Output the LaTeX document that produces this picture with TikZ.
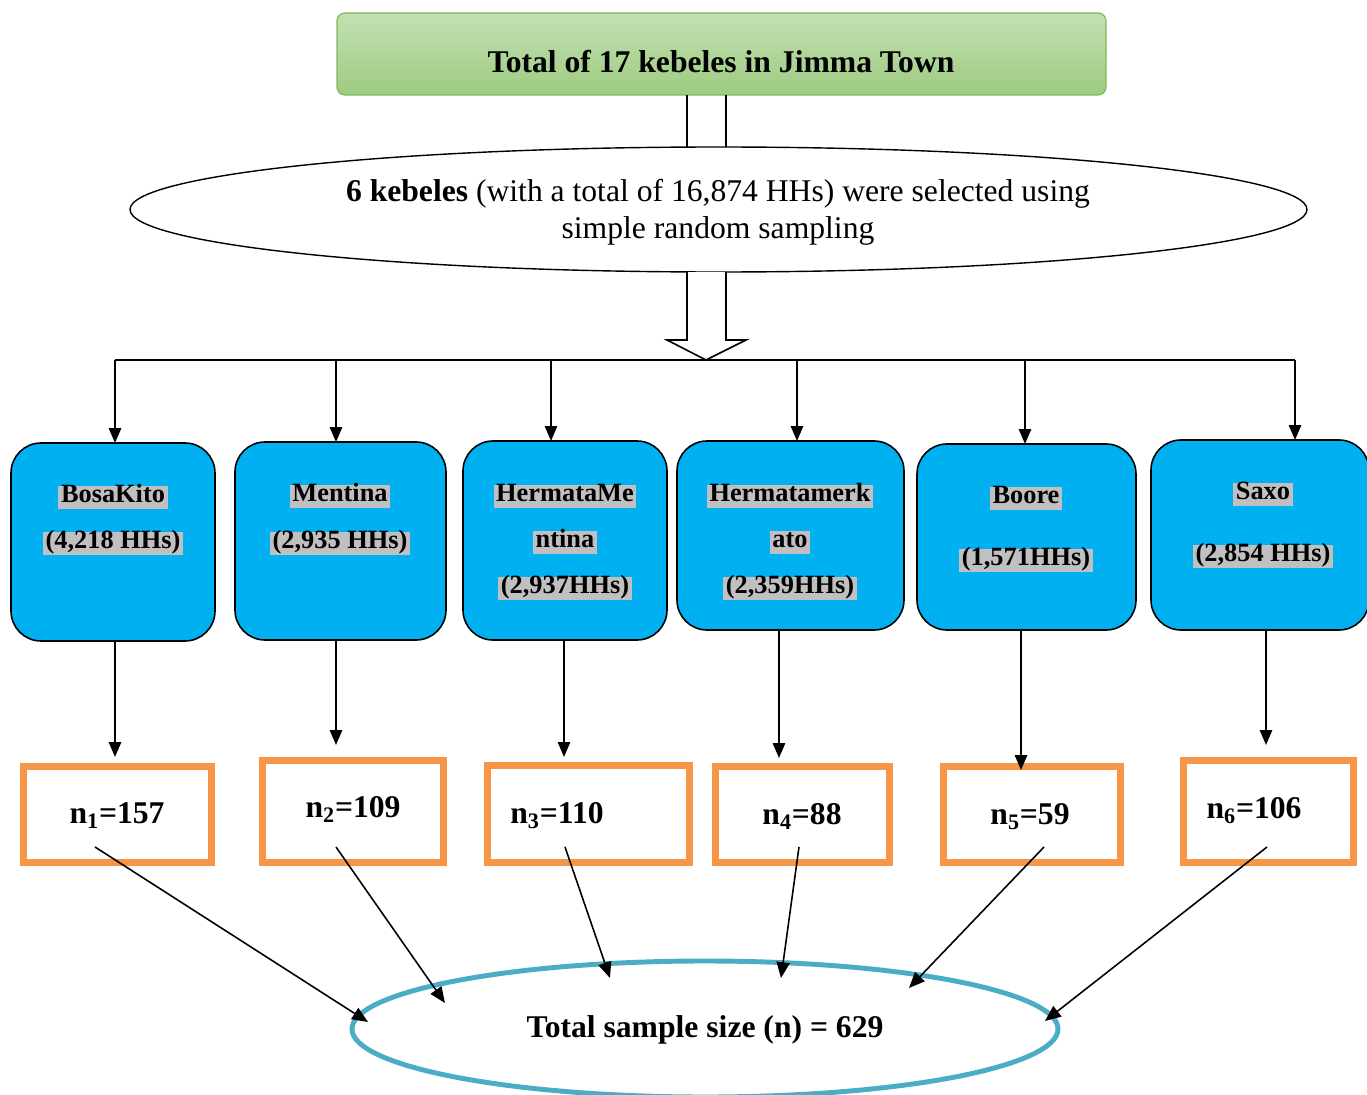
\documentclass[tikz,border=0pt]{standalone}
\usepackage{fontspec}
\setmainfont{Liberation Serif}
\usetikzlibrary{arrows.meta,shapes.geometric}
\definecolor{boxblue}{HTML}{00B0F0}
\definecolor{orng}{HTML}{F79646}
\definecolor{ellteal}{HTML}{4BACC6}
\definecolor{hlgray}{HTML}{C0C0C0}
\definecolor{gtop}{HTML}{C4E0B3}
\definecolor{gbot}{HTML}{9DCB80}
\definecolor{gborder}{HTML}{7DB85A}
\tikzset{
  px/.style 2 args={minimum width=#1*0.02cm, minimum height=#2*0.02cm},
  titlebox/.style={rectangle, rounded corners=0.16cm, draw=gborder, line width=0.7pt,
     top color=gtop, bottom color=gbot, inner sep=0pt, outer sep=0pt},
  bigell/.style={ellipse, draw=black, line width=0.8pt, fill=white, inner sep=0pt, outer sep=0pt},
  kbox/.style={rectangle, rounded corners=0.6cm, draw=black, line width=0.9pt, fill=boxblue, inner sep=0pt, outer sep=0pt},
  kline/.style={fill=hlgray, inner sep=1.5pt, text height=0.74em, text depth=0.22em, yshift=-0.07cm,
     font=\fontsize{15}{18}\selectfont\bfseries},
  nbox/.style={rectangle, draw=orng, line width=4pt, fill=white, inner sep=0pt, outer sep=0pt},
  ntext/.style={inner sep=0pt, yshift=-0.05cm, font=\fontsize{18}{22}\selectfont\bfseries},
  totell/.style={ellipse, draw=ellteal, line width=2.8pt, fill=white, inner sep=0pt, outer sep=0pt},
  conn/.style={line width=1.1pt, -{Triangle[length=8.5pt,width=7pt]}},
  diag/.style={line width=0.9pt, -{Triangle[length=9pt,width=7.5pt]}}
}
\begin{document}
\begin{tikzpicture}[x=0.02cm,y=-0.02cm]
\useasboundingbox (0,0) rectangle (1367,1095);

% title box
\node[titlebox, px={769}{82}] (top) at (721.5,54) {};
\node[ntext] (toptext) at (721,59) {Total of 17 kebeles in Jimma Town};

% block arrow (upper shaft)
\coordinate (sa1) at (687,95);
\coordinate (sa2) at (726,95);
\coordinate (sb1) at (687,150);
\coordinate (sb2) at (726,150);
\draw[line width=0.9pt] (sa1) -- (sb1) (sa2) -- (sb2);

% selection ellipse
\node[bigell, px={1177}{125}] (sel) at (718.5,209.5) {};
\node[align=center, inner sep=0pt, yshift=-0.05cm, font=\fontsize{18}{21}\selectfont] (seltext) at (718,210)
  {\textbf{6 kebeles} (with a total of 16,874 HHs) were selected using\\simple random sampling};

% block arrow (lower)
\coordinate (la1) at (687,272);
\coordinate (la2) at (726,272);
\coordinate (tip) at (706,360);
\draw[line width=0.9pt, fill=white] (la1) -- (687,340) -- (667,340) -- (tip) -- (746,340) -- (726,340) -- (la2);

% horizontal distribution line
\coordinate (h1) at (115,360);
\coordinate (h2) at (336,360);
\coordinate (h3) at (551,360);
\coordinate (h4) at (797,360);
\coordinate (h5) at (1025,360);
\coordinate (h6) at (1295,360);
\draw[line width=1.1pt] (h1) -- (h6);

% kebele boxes
\node[kbox, px={204}{198}] (b1) at (113,542) {};
\node[kbox, px={211}{198}] (b2) at (340.5,541) {};
\node[kbox, px={204}{199}] (b3) at (565,540.5) {};
\node[kbox, px={227}{189}] (b4) at (790.5,535.5) {};
\node[kbox, px={219}{186}] (b5) at (1026.5,537) {};
\node[kbox, px={218}{190}] (b6) at (1260,535) {};

\foreach \i in {1,...,6} {\draw[conn] (h\i) -- (h\i |- b\i.north);}

\node[kline] (k1a) at (113,494) {BosaKito};
\node[kline] (k1b) at (113,540) {(4,218 HHs)};
\node[kline] (k2a) at (340,493) {Mentina};
\node[kline] (k2b) at (340,540) {(2,935 HHs)};
\node[kline] (k3a) at (565,493) {HermataMe};
\node[kline] (k3b) at (565,539) {ntina};
\node[kline] (k3c) at (565,585) {(2,937HHs)};
\node[kline] (k4a) at (790,493) {Hermatamerk};
\node[kline] (k4b) at (790,539) {ato};
\node[kline] (k4c) at (790,585) {(2,359HHs)};
\node[kline] (k5a) at (1026,495) {Boore};
\node[kline] (k5b) at (1026,557) {(1,571HHs)};
\node[kline] (k6a) at (1263,491) {Saxo};
\node[kline] (k6b) at (1263,553) {(2,854 HHs)};

% sample boxes
\node[nbox, px={188}{96}] (o1) at (117.5,814.5) {};
\node[nbox, px={181}{102}] (o2) at (353,811.5) {};
\node[nbox, px={202}{97}] (o3) at (588.5,814) {};
\node[nbox, px={174}{96}] (o4) at (802.5,814.5) {};
\node[nbox, px={177}{96}] (o5) at (1032,814.5) {};
\node[nbox, px={170}{102}] (o6) at (1268.5,811.5) {};

\node[ntext] (n1) at (117,813) {n\textsubscript{1}=157};
\node[ntext] (n2) at (353,807) {n\textsubscript{2}=109};
\node[ntext] (n3) at (557,813) {n\textsubscript{3}=110};
\node[ntext] (n4) at (802,814) {n\textsubscript{4}=88};
\node[ntext] (n5) at (1030,814) {n\textsubscript{5}=59};
\node[ntext] (n6) at (1254,808) {n\textsubscript{6}=106};

% arrows kebele -> sample
\coordinate (v1) at (115,757);
\coordinate (v2) at (336,745);
\coordinate (v3) at (564,757);
\coordinate (v4) at (779,758);
\coordinate (v5) at (1021,770);
\coordinate (v6) at (1266,745);
\foreach \i in {1,...,6} {\draw[conn] (v\i |- b\i.south) -- (v\i);}

% total ellipse
\node[totell, px={706}{136}] (tot) at (705,1029) {};
\node[ntext] (tottext) at (705,1027) {Total sample size (n) = 629};

% arrows sample -> total
\coordinate (s1) at (95,847);
\coordinate (s2) at (336,847);
\coordinate (s3) at (565,847);
\coordinate (s4) at (799,847);
\coordinate (s5) at (1044,847);
\coordinate (s6) at (1267,847);
\coordinate (e1) at (368,1022);
\coordinate (e2) at (445,1003);
\coordinate (e3) at (610,978);
\coordinate (e4) at (781,978);
\coordinate (e5) at (909,988);
\coordinate (e6) at (1045,1021);
\foreach \i in {1,...,6} {\draw[diag] (s\i) -- (e\i);}
\end{tikzpicture}
\end{document}
